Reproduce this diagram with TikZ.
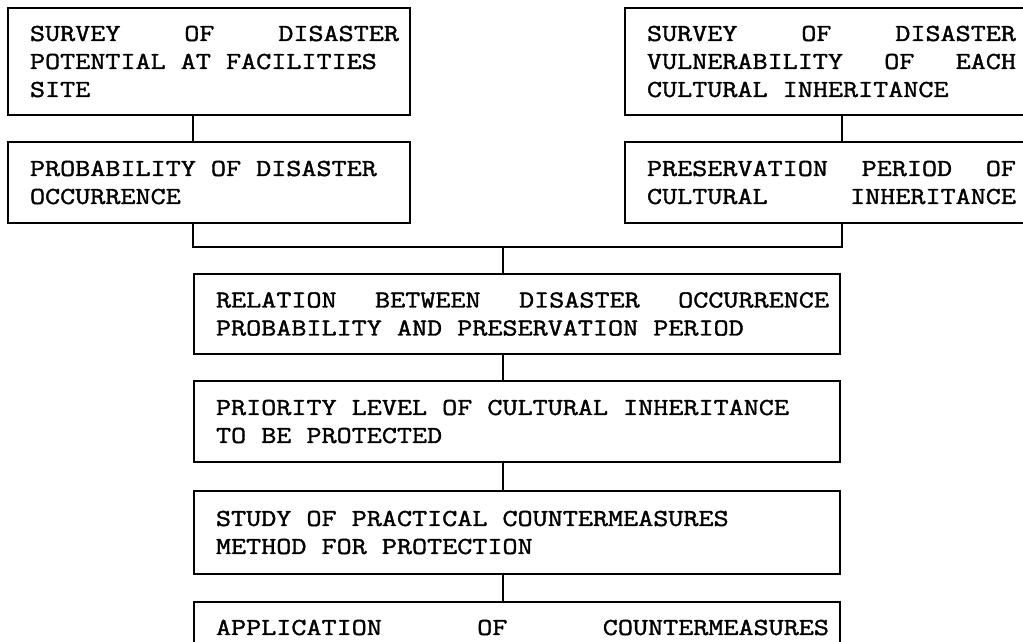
\documentclass[tikz,border=0pt]{standalone}
\usepackage{fontspec}
\newfontfamily\typew[FakeStretch=1.2,FakeBold=1.5]{Latin Modern Mono}

% one line stretched to the full text width
\newcommand{\fullline}[1]{\makebox[\linewidth][s]{#1}}
% block of lines, 22pt from the left edge and 11pt from the right edge
\newcommand{\boxlines}[2]{\hspace*{11pt}\parbox[c]{#1}{\raggedright #2}}

\begin{document}
\begin{tikzpicture}[x=1pt,y=-1pt,
  stepbox/.style={draw, line width=2pt, rectangle, inner sep=0pt, anchor=north west,
    font=\typew\fontsize{24.4pt}{28pt}\selectfont},
  smallbox/.style={stepbox, minimum width=402pt},
  widebox/.style={stepbox, minimum width=646pt},
  link/.style={line width=2pt}]
\clip (0,0) rectangle (1023,641);

% two survey columns
\node[smallbox, minimum height=107pt] (b1) at (7,7)
  {\boxlines{369pt}{\fullline{SURVEY \hfill OF \hfill DISASTER}\\POTENTIAL AT FACILITIES\\SITE}};
\node[smallbox, minimum height=81pt] (b2) at (7,141)
  {\boxlines{369pt}{PROBABILITY OF DISASTER\\OCCURRENCE}};
\node[smallbox, minimum height=107pt] (b3) at (624,7)
  {\boxlines{369pt}{\fullline{SURVEY \hfill OF \hfill DISASTER}\\\fullline{VULNERABILITY \hfill OF \hfill EACH}\\CULTURAL INHERITANCE}};
\node[smallbox, minimum height=81pt] (b4) at (624,141)
  {\boxlines{369pt}{\fullline{PRESERVATION \hfill PERIOD \hfill OF}\\\fullline{CULTURAL \hfill INHERITANCE}}};

% central chain
\node[widebox, minimum height=80pt] (b5) at (193,273)
  {\boxlines{613pt}{\fullline{RELATION \hfill BETWEEN \hfill DISASTER \hfill OCCURRENCE}\\PROBABILITY AND PRESERVATION PERIOD}};
\node[widebox, minimum height=81pt] (b6) at (193,380)
  {\boxlines{613pt}{PRIORITY LEVEL OF CULTURAL INHERITANCE\\TO BE PROTECTED}};
\node[widebox, minimum height=83pt] (b7) at (193,490)
  {\boxlines{613pt}{STUDY OF PRACTICAL COUNTERMEASURES\\METHOD FOR PROTECTION}};
\node[widebox, minimum height=51pt] (b8) at (193,601)
  {\boxlines{613pt}{\fullline{APPLICATION \hfill OF \hfill COUNTERMEASURES}}};

% connectors
\coordinate (join) at (503,247);
\draw[link] ([xshift=186pt]b1.south west) -- ([xshift=186pt]b2.north west);
\draw[link] ([xshift=218pt]b3.south west) -- ([xshift=218pt]b4.north west);
\draw[link] ([xshift=186pt]b2.south west) |- (join) -| ([xshift=218pt]b4.south west);
\draw[link] (join) -- ([xshift=310pt]b5.north west);
\draw[link] ([xshift=310pt]b5.south west) -- ([xshift=310pt]b6.north west);
\draw[link] ([xshift=310pt]b6.south west) -- ([xshift=310pt]b7.north west);
\draw[link] ([xshift=310pt]b7.south west) -- ([xshift=310pt]b8.north west);
\end{tikzpicture}
\end{document}
